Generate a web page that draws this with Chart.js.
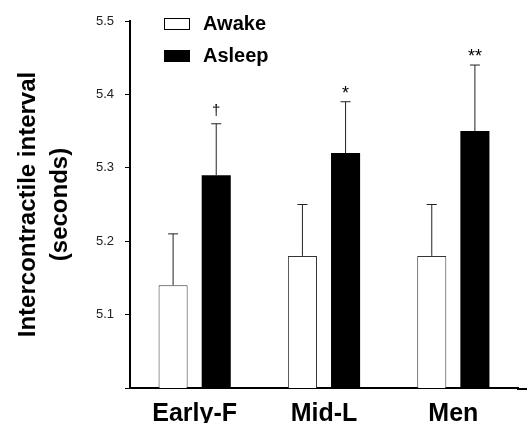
<!DOCTYPE html>
<html>
<head>
<meta charset="utf-8">
<script src="https://cdn.jsdelivr.net/npm/chart.js@4/dist/chart.umd.min.js"></script>
<style>
  html, body { margin: 0; padding: 0; background: #fff; }
  #wrap { width: 527px; height: 423px; }
</style>
</head>
<body>
<div id="wrap"><canvas id="chart" width="527" height="423"></canvas></div>
<script>
const grupos = ["Early-F", "Mid-L", "Men"];
const despierto = [5.14, 5.18, 5.18];
const dormido = [5.29, 5.32, 5.35];
const errDespierto = [0.07, 0.07, 0.07];
const errDormido = [0.07, 0.07, 0.09];
const marcas = ["\u2020", "*", "**"];
const yTicks = [5.0, 5.1, 5.2, 5.3, 5.4, 5.5];

const fuente = "Arial, 'Liberation Sans', sans-serif";

// barras de error (solo hacia arriba) y marcas de significancia
const errorBars = {
    id: 'errorBars',
    afterDatasetsDraw(chart) {
        const ctx = chart.ctx;
        const y = chart.scales.y;
        const errores = [errDespierto, errDormido];
        ctx.save();
        chart.data.datasets.forEach((ds, di) => {
            const meta = chart.getDatasetMeta(di);
            meta.data.forEach((bar, i) => {
                const top = y.getPixelForValue(ds.data[i] + errores[di][i]);
                ctx.strokeStyle = '#222';
                ctx.lineWidth = 1;
                ctx.beginPath();
                ctx.moveTo(bar.x, bar.y);
                ctx.lineTo(bar.x, top);
                ctx.moveTo(bar.x - 5, top);
                ctx.lineTo(bar.x + 5, top);
                ctx.stroke();
                if (di === 1) {
                    const daga = marcas[i] === "\u2020";
                    ctx.fillStyle = '#000';
                    ctx.font = (daga ? "15px " : "18px ") + fuente;
                    ctx.textAlign = 'center';
                    ctx.textBaseline = 'bottom';
                    ctx.fillText(marcas[i], bar.x, top - (daga ? 5 : -1));
                }
            });
        });
        // prolongar el eje x hasta el borde
        const a = chart.chartArea;
        ctx.strokeStyle = '#000';
        ctx.lineWidth = 2;
        ctx.beginPath();
        ctx.moveTo(a.right - 1, a.bottom + 1);
        ctx.lineTo(chart.width, a.bottom + 1);
        ctx.stroke();
        ctx.restore();
    }
};

// leyenda dibujada a mano dentro del area
const leyenda = {
    id: 'leyenda',
    afterDraw(chart) {
        const ctx = chart.ctx;
        const items = [["Awake", '#fff'], ["Asleep", '#000']];
        ctx.save();
        items.forEach((it, k) => {
            const yy = 18 + k * 32;
            ctx.fillStyle = it[1];
            ctx.fillRect(164, yy, 25, 12);
            ctx.strokeStyle = '#000';
            ctx.lineWidth = 1;
            ctx.strokeRect(164.5, yy + 0.5, 25, 11);
            ctx.fillStyle = '#000';
            ctx.font = "bold 20px " + fuente;
            ctx.textAlign = 'left';
            ctx.textBaseline = 'middle';
            ctx.fillText(it[0], 203, yy + 6);
        });
        ctx.restore();
    }
};

new Chart(document.getElementById('chart'), {
    type: 'bar',
    data: {
        labels: grupos,
        datasets: [
            {
                label: 'Awake',
                data: despierto,
                backgroundColor: '#ffffff',
                borderColor: '#333',
                borderWidth: 1,
                borderSkipped: 'bottom',
                categoryPercentage: 0.667,
                barPercentage: 0.674
            },
            {
                label: 'Asleep',
                data: dormido,
                backgroundColor: '#000000',
                borderColor: '#000',
                borderWidth: 0,
                categoryPercentage: 0.667,
                barPercentage: 0.674
            }
        ]
    },
    options: {
        responsive: false,
        animation: false,
        layout: { padding: { top: 21, right: 9, left: 0, bottom: 0 } },
        plugins: {
            legend: { display: false },
            tooltip: { enabled: false }
        },
        scales: {
            x: {
                grid: { display: true, drawOnChartArea: false, drawTicks: false },
                border: { display: true, color: '#000', width: 2 },
                ticks: {
                    color: '#000',
                    padding: 11,
                    font: { family: fuente, size: 25, weight: 'bold' }
                },
                afterFit(scale) { scale.height = 35; }
            },
            y: {
                min: 5.0,
                max: 5.5,
                afterBuildTicks(scale) {
                    scale.ticks = yTicks.map(v => ({ value: v }));
                },
                grid: { display: true, drawOnChartArea: false, drawTicks: true, tickLength: 5, color: '#000' },
                border: { display: true, color: '#000', width: 2 },
                ticks: {
                    color: '#222',
                    padding: 11,
                    font: { family: fuente, size: 13 },
                    callback: v => (Math.abs(v - 5.0) < 1e-9 ? '' : v.toFixed(1))
                },
                title: {
                    display: true,
                    text: ["Intercontractile interval", "(seconds)"],
                    color: '#000',
                    font: { family: fuente, size: 24, weight: 'bold', lineHeight: 1.35 },
                    padding: { top: 12, bottom: 10 }
                },
                afterFit(scale) { scale.width = 130; }
            }
        }
    },
    plugins: [errorBars, leyenda]
});
</script>
</body>
</html>
